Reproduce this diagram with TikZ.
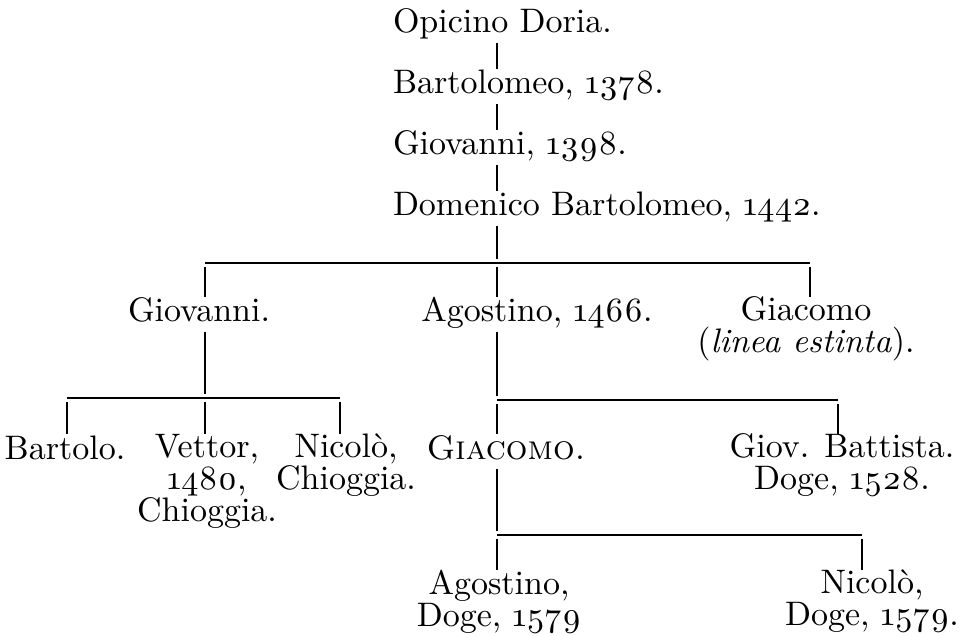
\documentclass[tikz,border=0pt]{standalone}
\usepackage{fontspec}
\setmainfont{lmroman10-regular.otf}[
    ItalicFont=lmroman10-italic.otf,
    SmallCapsFont=lmromancaps10-regular.otf]
\usepackage{tikz}
\usetikzlibrary{positioning}

\begin{document}
\lineskiplimit=-100pt
\begin{tikzpicture}[
    x=1pt, y=-1pt,
    node distance=26pt,
    every node/.style={font=\fontsize{34}{32}\selectfont},
    person/.style={inner sep=0pt, outer sep=0pt, align=center,
        execute at begin node={\rule{0pt}{25pt}},
        execute at end node={\rule[-10pt]{0pt}{10pt}}},
    stem/.style={line width=2.2pt},
    bar/.style={line width=1.3pt},
    gap/.style={shorten <=4pt}
]
\useasboundingbox (0,0) rectangle (959,636);
\coordinate (trunk) at (497,0);

% line of Opicino
\node (opicino) [person, anchor=north west] at (393,8) {Opicino Doria.};
\node (bartolomeo) [person, below=of opicino.south west, anchor=north west] {Bartolomeo, \oldstylenums{1378}.};
\node (giovanni) [person, below=of bartolomeo.south west, anchor=north west] {Giovanni, \oldstylenums{1398}.};
\node (domenico) [person, below=of giovanni.south west, anchor=north west] {Domenico Bartolomeo, \oldstylenums{1442}.};

% sons of Domenico
\node (giovanniB) [person, anchor=north] at (199,297) {Giovanni.};
\node (agostino) [person, anchor=north] at (537,297) {Agostino, \oldstylenums{1466}.};
\node (giacomo) [person, anchor=north] at (806,297) {Giacomo\\(\textit{linea estinta}).};

% grandsons
\node (bartolo) [person, anchor=north] at (65,434) {Bartolo.};
\node (vettor) [person, anchor=north] at (207,434) {Vettor,\\\oldstylenums{1480},\\Chioggia.};
\node (nicolo) [person, anchor=north] at (346,434) {Nicolò,\\Chioggia.};
\node (giacomoB) [person, anchor=north] at (506,434) {\textsc{Giacomo.}};
\node (battista) [person, anchor=north] at (842,434) {Giov. Battista.\\Doge, \oldstylenums{1528}.};

% the two doges of 1579
\node (agostinoB) [person, anchor=north] at (499,570) {Agostino,\\Doge, \oldstylenums{1579}};
\node (nicoloB) [person, anchor=north] at (872,570) {Nicolò,\\Doge, \oldstylenums{1579}.};

\coordinate (fork1) at (497,263);
\coordinate (bar1w) at (205,263);
\coordinate (bar1e) at (810,263);
\coordinate (fork2) at (205,398);
\coordinate (bar2w) at (67,398);
\coordinate (bar2e) at (340,398);
\coordinate (fork3) at (497,400);
\coordinate (bar3e) at (838,400);
\coordinate (fork4) at (497,535);
\coordinate (bar4e) at (862,535);

\draw [stem] (opicino.south -| trunk) -- (bartolomeo.north -| trunk);
\draw [stem] (bartolomeo.south -| trunk) -- (giovanni.north -| trunk);
\draw [stem] (giovanni.south -| trunk) -- (domenico.north -| trunk);
\draw [stem, shorten >=4pt] (domenico.south -| trunk) -- (fork1);

\draw [bar] (bar1w) -- (bar1e);
\draw [stem, gap] (bar1w) -- (giovanniB.north -| bar1w);
\draw [stem, gap] (fork1) -- (agostino.north -| fork1);
\draw [stem, gap] (bar1e) -- (giacomo.north -| bar1e);

\draw [stem, shorten >=4pt] (giovanniB.south -| fork2) -- (fork2);
\draw [bar] (bar2w) -- (bar2e);
\draw [stem, gap] (bar2w) -- (bartolo.north -| bar2w);
\draw [stem, gap] (fork2) -- (vettor.north -| fork2);
\draw [stem, gap] (bar2e) -- (nicolo.north -| bar2e);

\draw [stem, shorten >=4pt] (agostino.south -| fork3) -- (fork3);
\draw [bar] (fork3) -- (bar3e);
\draw [stem, gap] (fork3) -- (giacomoB.north -| fork3);
\draw [stem, gap] (bar3e) -- (battista.north -| bar3e);

\draw [stem, shorten >=4pt] (giacomoB.south -| fork4) -- (fork4);
\draw [bar] (fork4) -- (bar4e);
\draw [stem, gap] (fork4) -- (agostinoB.north -| fork4);
\draw [stem, gap] (bar4e) -- (nicoloB.north -| bar4e);
\end{tikzpicture}
\end{document}
